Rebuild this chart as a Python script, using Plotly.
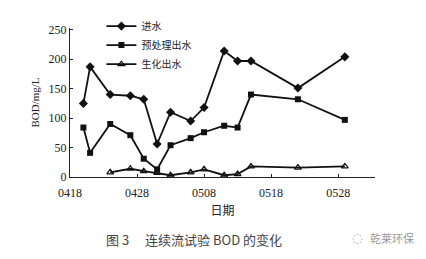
import plotly.graph_objects as go

# sampling dates (MMDD)
dates_in = ["0420", "0421", "0424", "0427", "0429", "0501", "0503", "0506", "0508",
            "0511", "0513", "0515", "0522", "0529"]
inflow = [125, 187, 140, 138, 132, 56, 110, 95, 118, 214, 197, 197, 151, 204]
pretreat = [84, 41, 90, 71, 31, 13, 54, 66, 76, 87, 84, 140, 132, 97]

dates_bio = ["0424", "0427", "0429", "0501", "0503", "0506", "0508",
             "0511", "0513", "0515", "0522", "0529"]
bio = [8, 14, 10, 7, 3, 8, 13, 3, 5, 18, 16, 18]

tick_labels = ["0418", "0428", "0508", "0518", "0528"]
y_ticks = [0, 50, 100, 150, 200, 250]

YEAR = "2000"


def to_date(s):
    return f"{YEAR}-{s[:2]}-{s[2:]}"


serif = "Liberation Serif, Noto Sans CJK SC, serif"
cjk = "Noto Sans CJK SC, Liberation Serif, serif"

fig = go.Figure()
fig.add_trace(go.Scatter(
    x=[to_date(d) for d in dates_in], y=inflow, name="进水",
    mode="lines+markers", line=dict(color="#111", width=1.8),
    marker=dict(symbol="diamond", size=7, color="#111")))
fig.add_trace(go.Scatter(
    x=[to_date(d) for d in dates_in], y=pretreat, name="预处理出水",
    mode="lines+markers", line=dict(color="#111", width=1.8),
    marker=dict(symbol="square", size=6, color="#111")))
fig.add_trace(go.Scatter(
    x=[to_date(d) for d in dates_bio], y=bio, name="生化出水",
    mode="lines+markers", line=dict(color="#111", width=1.8),
    marker=dict(symbol="triangle-up-open", size=6, color="#111",
                line=dict(width=1.2, color="#111"))))

fig.update_layout(
    width=426, height=259,
    margin=dict(l=70, r=51, t=23, b=82),
    paper_bgcolor="white", plot_bgcolor="white",
    font=dict(family=serif, size=11, color="#222"),
    showlegend=True,
    legend=dict(x=0.103, y=1.11, xanchor="left", yanchor="top",
                bgcolor="rgba(0,0,0,0)", font=dict(family=cjk, size=10, color="#222"),
                itemwidth=30, tracegroupgap=0),
    xaxis=dict(
        type="date",
        range=[f"{YEAR}-04-18", f"{YEAR}-06-02 12:00"],
        tickvals=[to_date(t) for t in tick_labels],
        ticktext=tick_labels,
        ticks="inside", ticklen=3, tickcolor="#222",
        ticklabelstandoff=4,
        showline=True, linecolor="#222", linewidth=1.2,
        showgrid=False, zeroline=False,
        tickfont=dict(family=serif, size=12, color="#222"),
        title=dict(text="日期", font=dict(family=cjk, size=12, color="#222"), standoff=8),
    ),
    yaxis=dict(
        range=[0, 253],
        tickvals=y_ticks,
        ticks="inside", ticklen=3, tickcolor="#222",
        showline=True, linecolor="#222", linewidth=1.2,
        showgrid=False, zeroline=False,
        tickfont=dict(family=serif, size=12, color="#222"),
        title=dict(text="BOD/mg/L", font=dict(family=serif, size=11, color="#222"), standoff=6),
    ),
)

fig.add_annotation(text="图 3　 连续流试验 BOD 的变化", xref="paper", yref="paper",
                   x=(194 - 70) / 305, y=-(242 - 177) / 154, showarrow=False,
                   xanchor="center", yanchor="middle",
                   font=dict(family=cjk, size=13, color="#444"))
fig.add_annotation(text="乾莱环保", xref="paper", yref="paper",
                   x=(392 - 70) / 305, y=-(240 - 177) / 154, showarrow=False,
                   xanchor="center", yanchor="middle",
                   font=dict(family=cjk, size=11, color="#999"))
fig.add_annotation(text="◌", xref="paper", yref="paper",
                   x=(357 - 70) / 305, y=-(240 - 177) / 154, showarrow=False,
                   xanchor="center", yanchor="middle",
                   font=dict(family="DejaVu Sans", size=12, color="#aaa"))

fig.write_html("out.html")
